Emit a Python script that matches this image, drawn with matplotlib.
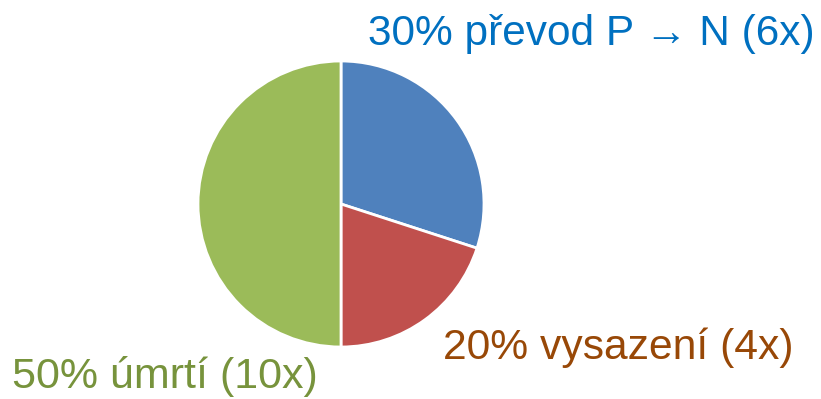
import matplotlib
matplotlib.use("Agg")
import matplotlib.pyplot as plt

# podíly jednotlivých výsledků
labels = ["30% převod P → N (6x)", "20% vysazení (4x)", "50% úmrtí (10x)"]
values = [30, 20, 50]
wedge_colors = ["#4F81BD", "#C0504D", "#9BBB59"]
text_colors = ["#0070C0", "#984807", "#77933C"]

fig = plt.figure(figsize=(8.21, 3.99), dpi=100)
ax = fig.add_axes([0, 0, 1, 1])

# koláč v pixelových souřadnicích, po směru hodin od 12:00
ax.pie(values, colors=wedge_colors, startangle=90, counterclock=False,
       center=(341, 195), radius=143,
       wedgeprops=dict(edgecolor="white", linewidth=2))
ax.set_xlim(0, 821)
ax.set_ylim(0, 399)
ax.set_aspect("auto")
ax.axis("off")

font = ["Liberation Sans", "DejaVu Sans"]

# popisky
ax.text(368, 354, labels[0], color=text_colors[0], fontsize=30.5,
        family=font, ha="left", va="baseline")
ax.text(443, 40, labels[1], color=text_colors[1], fontsize=30.7,
        family=font, ha="left", va="baseline")
ax.text(12, 11, labels[2], color=text_colors[2], fontsize=31,
        family=font, ha="left", va="baseline")

fig.savefig("out.png", dpi=100)
